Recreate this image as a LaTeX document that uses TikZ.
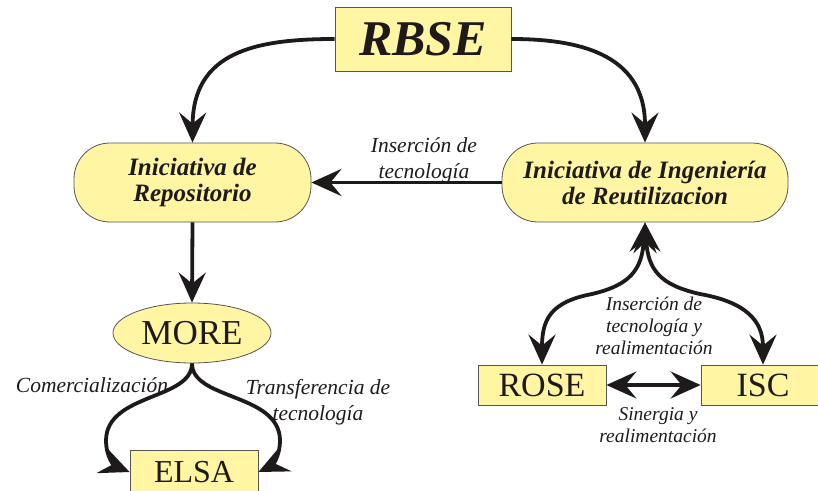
\documentclass[tikz,border=0pt]{standalone}
\usepackage{fontspec}
\setmainfont{Liberation Serif}
\usetikzlibrary{arrows.meta,shapes.geometric}
\definecolor{boxfill}{HTML}{FFF5A3}
\definecolor{boxline}{HTML}{555555}
\definecolor{ink}{HTML}{1E1A1A}
\begin{document}
\begin{tikzpicture}[x=1pt,y=-1pt,
  box/.style={draw=boxline, line width=0.8pt, fill=boxfill, inner sep=0pt, text=ink},
  rbox/.style={box, rectangle, rounded corners=36pt, minimum height=79pt, align=center, font=\fontsize{25}{26}\selectfont\bfseries\itshape},
  plainbox/.style={box, rectangle, minimum height=40pt, font=\fontsize{34}{34}\selectfont},
  lbl/.style={align=center, text=ink, font=\fontsize{19.5}{22}\selectfont\itshape},
  lblbig/.style={align=center, text=ink, font=\fontsize{21.5}{26}\selectfont\itshape},
  tip/.tip={Stealth[length=30pt,width=27pt,inset=11pt]},
  conn/.style={draw=ink, line width=3.8pt, -tip},
  biconn/.style={draw=ink, line width=3.8pt, tip-tip}
]
\useasboundingbox (0,0) rectangle (818,490);
\clip (0,0) rectangle (818,490);

% nodes
\node[box, rectangle, minimum width=176pt, minimum height=64pt,
      font=\fontsize{50}{50}\selectfont\bfseries\itshape] (rbse) at (423,39) {RBSE};
\node[rbox, minimum width=237pt] (repo) at (192.5,182.5) {Iniciativa de\\Repositorio};
\node[rbox, minimum width=286pt] (ing) at (645,182.5) {Iniciativa de Ingeniería\\de Reutilizacion};
\node[box, ellipse, minimum width=158pt, minimum height=60pt,
      font=\fontsize{35}{35}\selectfont] (more) at (192,333) {MORE};
\node[plainbox, minimum width=128pt, minimum height=44pt, font=\fontsize{32}{32}\selectfont] (elsa) at (194,472) {ELSA};
\node[plainbox, minimum width=128pt] (rose) at (542,385) {ROSE};
\node[plainbox, minimum width=124pt] (isc) at (763,385) {ISC};

% labels
\node[lblbig] (l1) at (424,160) {Inserción de\\tecnología};
\node[lblbig] (l2) at (92,385) {Comercialización};
\node[lblbig] (l3) at (318,402) {Transferencia de\\tecnología};
\node[lbl] (l4) at (654,326) {Inserción de\\tecnología y\\realimentación};
\node[lbl] (l5) at (658,425) {Sinergia y\\realimentación};

% connectors
\draw[conn] (rbse.west) .. controls (255,39) and (193,52) .. (repo.north);
\draw[conn] (rbse.east) .. controls (575,39) and (645,52) .. (ing.north);
\draw[conn] (ing.west) -- (repo.east);
\draw[conn] (repo.south) -- (more.north);
\draw[conn] (more.south) .. controls (192,400) and (107,393) .. (106,440)
   .. controls (106,458) and (115,466) .. (elsa.west);
\draw[conn] (more.south) .. controls (192,400) and (279,393) .. (280,440)
   .. controls (280,458) and (271,466) .. (elsa.east);
\draw[biconn] (ing.south) .. controls (642,270) and (630,285) .. (592,294)
   .. controls (550,302) and (542,320) .. (rose.north);
\draw[biconn] (ing.south) .. controls (648,270) and (660,285) .. (700,294)
   .. controls (745,302) and (763,320) .. (isc.north);
\draw[biconn] (rose.east) -- (isc.west);
\end{tikzpicture}
\end{document}
